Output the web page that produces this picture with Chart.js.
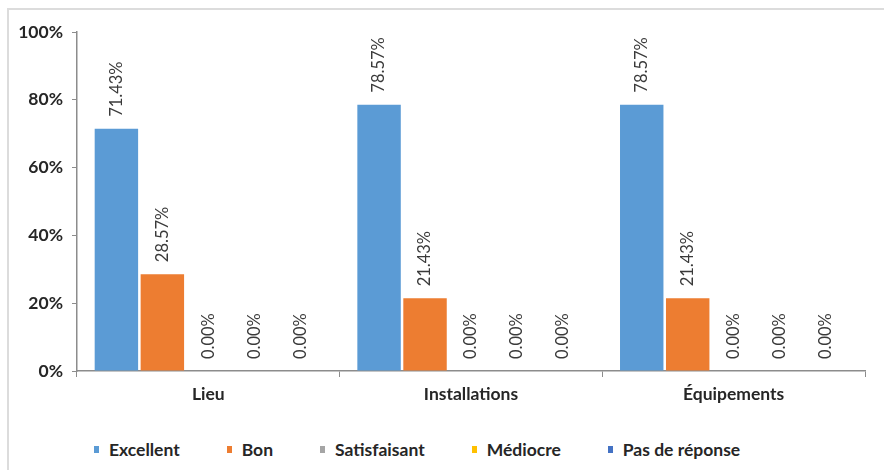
<!DOCTYPE html>
<html lang="fr">
<head>
<meta charset="utf-8">
<script src="https://cdn.jsdelivr.net/npm/chart.js@4/dist/chart.umd.min.js"></script>
<style>
  html, body { margin: 0; padding: 0; background: #fff; }
  #wrap { position: relative; width: 884px; height: 470px; overflow: hidden; }
  #frame {
    position: absolute; left: 7px; top: 8px; width: 900px; height: 480px;
    border-left: 2px solid #dcdcdc; border-top: 2px solid #dcdcdc;
  }
  #chart { position: absolute; left: 0; top: 0; }
  #legend {
    position: absolute; left: 94px; top: 439px;
    display: flex; align-items: center; gap: 47px;
    font-family: Lato, sans-serif; font-weight: bold; font-size: 17.5px; color: #262626;
  }
  #legend .item { display: flex; align-items: center; }
  #legend .box { width: 5px; height: 7px; margin-right: 10px; }
</style>
</head>
<body>
<div id="wrap">
  <div id="frame"></div>
  <canvas id="chart" width="884" height="420"></canvas>
  <div id="legend"></div>
</div>
<script>
// Categories and series (percent of responses)
const categories = ['Lieu', 'Installations', 'Équipements'];
const seriesNames = ['Excellent', 'Bon', 'Satisfaisant', 'Médiocre', 'Pas de réponse'];
const excellent = [71.43, 78.57, 78.57];
const bon = [28.57, 21.43, 21.43];
const satisfaisant = [0, 0, 0];
const mediocre = [0, 0, 0];
const pasDeReponse = [0, 0, 0];
const yTicks = [0, 20, 40, 60, 80, 100];

const colors = ['#5B9BD5', '#ED7D31', '#A5A5A5', '#FFC000', '#4472C4'];
const seriesValues = [excellent, bon, satisfaisant, mediocre, pasDeReponse];

// Vertical value labels above each bar
const barLabels = {
    id: 'barLabels',
    afterDatasetsDraw(chart) {
        const ctx = chart.ctx;
        ctx.save();
        ctx.font = '16.5px Lato, sans-serif';
        ctx.fillStyle = '#3a3a3a';
        ctx.textAlign = 'left';
        ctx.textBaseline = 'middle';
        chart.data.datasets.forEach((ds, i) => {
            const meta = chart.getDatasetMeta(i);
            meta.data.forEach((bar, j) => {
                const text = ds.data[j].toFixed(2) + '%';
                ctx.save();
                ctx.translate(bar.x, bar.y - 12);
                ctx.rotate(-Math.PI / 2);
                ctx.fillText(text, 0, 0);
                ctx.restore();
            });
        });
        ctx.restore();
    }
};

const axisFont = { family: 'Lato, sans-serif', size: 17.5, weight: 'bold' };

const ctx = document.getElementById('chart').getContext('2d');
const chart = new Chart(ctx, {
    type: 'bar',
    data: {
        labels: categories,
        datasets: seriesNames.map((name, i) => ({
            label: name,
            data: seriesValues[i],
            backgroundColor: colors[i],
            borderWidth: 0,
            categoryPercentage: 0.875,
            barPercentage: 0.945
        }))
    },
    options: {
        responsive: false,
        animation: false,
        layout: { padding: { left: 0, right: 19, top: 32, bottom: 9 } },
        plugins: {
            legend: { display: false },
            tooltip: { enabled: false }
        },
        scales: {
            x: {
                grid: {
                    offset: true,
                    drawOnChartArea: false,
                    drawTicks: true,
                    tickLength: 6,
                    color: '#8c8c8c'
                },
                border: { color: '#8c8c8c', width: 1.5 },
                ticks: {
                    color: '#262626',
                    padding: 7,
                    font: axisFont
                },
                afterFit(scale) { scale.height = 40; }
            },
            y: {
                min: 0,
                max: 100,
                afterBuildTicks(scale) {
                    scale.ticks = yTicks.map(v => ({ value: v }));
                },
                grid: {
                    drawOnChartArea: false,
                    drawTicks: true,
                    tickLength: 5,
                    color: '#8c8c8c'
                },
                border: { color: '#8c8c8c', width: 1.5 },
                ticks: {
                    color: '#262626',
                    padding: 9,
                    font: axisFont,
                    callback: v => v + '%'
                },
                afterFit(scale) { scale.width = 77; }
            }
        }
    },
    plugins: [barLabels]
});

// HTML legend built from the chart's datasets
const legendEl = document.getElementById('legend');
chart.data.datasets.forEach(ds => {
    const item = document.createElement('div');
    item.className = 'item';
    const box = document.createElement('span');
    box.className = 'box';
    box.style.background = ds.backgroundColor;
    const label = document.createElement('span');
    label.textContent = ds.label;
    item.appendChild(box);
    item.appendChild(label);
    legendEl.appendChild(item);
});
</script>
</body>
</html>
